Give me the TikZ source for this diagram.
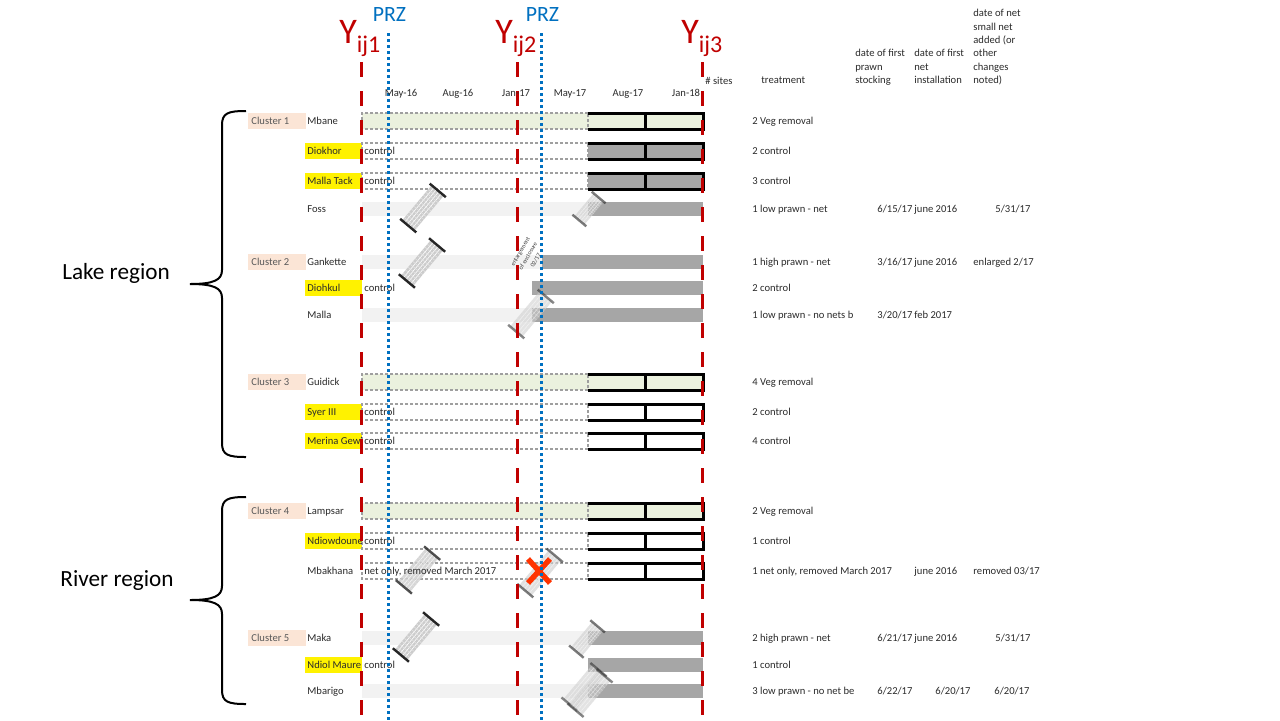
\documentclass[tikz,border=0pt]{standalone}
\usepackage{fontspec}
\setmainfont{Carlito}
\usetikzlibrary{calc}
\definecolor{yred}{HTML}{C00000}
\definecolor{pblue}{HTML}{0070C0}
\definecolor{vgreen}{HTML}{EBF1DE}
\definecolor{lgrey}{HTML}{F2F2F2}
\definecolor{dgrey}{HTML}{A6A6A6}
\definecolor{pinkc}{HTML}{FBE5D6}
\definecolor{xred}{HTML}{FF3300}
\definecolor{txtc}{HTML}{2B2B2B}
\definecolor{cltxt}{HTML}{595959}
\newcommand{\rowbox}[3]{%
  \fill[#2] (362,{#1-8}) rectangle (588,{#1+8});
  \fill[#3] (588,{#1-8}) rectangle (703,{#1+8});
  \draw[dbox] (588,{#1-8}) -- (362,{#1-8}) -- (362,{#1+8}) -- (588,{#1+8}) -- cycle;
  \draw[blk] (588,{#1-8}) -- (703,{#1-8}) -- (703,{#1+8}) -- (588,{#1+8});
  \draw[blk] (645,{#1-8}) -- (645,{#1+8});
}
\newcommand{\rownet}[2]{%
  \fill[lgrey] (362,{#1-7}) rectangle (703,{#1+7});
  \fill[dgrey] (#2,{#1-7}) rectangle (703,{#1+7});
}
\newcommand{\netpic}[5]{% cx cy length width opacity
  \begin{scope}[shift={(#1,#2)}, rotate=50]
    \fill[gray!40, opacity=#5] ({-#3/2},{-#4/2}) rectangle ({#3/2},{#4/2});
    \foreach \k in {-0.3,-0.1,0.1,0.3}
      \draw[white, opacity=#5, line width=0.3pt] ({-#3/2},{\k*#4}) -- ({#3/2},{\k*#4});
    \foreach \t in {0.08,0.16,...,0.95}
      \draw[gray!20, opacity=#5, line width=0.25pt] ({-#3/2+\t*#3},{-#4/2}) -- ({-#3/2+\t*#3},{#4/2});
    \draw[black!85, line width=1.2pt, opacity=#5] ({-#3/2},{-#4/2-2.5}) -- ({-#3/2},{#4/2+2.5});
    \draw[black!85, line width=1.2pt, opacity=#5] ({#3/2},{-#4/2-2.5}) -- ({#3/2},{#4/2+2.5});
  \end{scope}
}
\begin{document}
\begin{tikzpicture}[x=0.5pt,y=-0.5pt,
  sm/.style={font=\fontsize{5.3}{6.5}\selectfont, inner sep=0pt, anchor=base west, text=txtc},
  smc/.style={sm, anchor=base},
  cl/.style={sm, text=cltxt},
  dbox/.style={draw=gray!75, dash pattern=on 1.5pt off 1pt, line width=0.6pt},
  blk/.style={draw=black, line width=1.5pt},
  redline/.style={yred, line width=1.5pt, dash pattern=on 7.5pt off 7pt},
  blueline/.style={pblue, line width=1.5pt, dash pattern=on 1.5pt off 1.5pt},
  region/.style={font=\fontsize{11.6}{13}\selectfont, inner sep=0pt, text=black},
  brace/.style={draw=black, line width=1pt}]
\useasboundingbox (0,0) rectangle (1280,720);
\fill[white] (0,0) rectangle (1280,720);

% ---------- braces and region labels ----------
\node[region] (lake) at (116,273) {Lake region};
\node[region] (river) at (117,580) {River region};
\coordinate (lt) at (246,111);
\coordinate (lb) at (246,457);
\coordinate (rt) at (246,497);
\coordinate (rb) at (246,704);
\draw[brace] (lt) .. controls (228,111) and (222,113) .. (222,125) -- (222,270)
  .. controls (222,280) and (214,284) .. (190,284)
  .. controls (214,284) and (222,288) .. (222,298) -- (222,443)
  .. controls (222,455) and (228,457) .. (lb);
\draw[brace] (rt) .. controls (228,497) and (222,499) .. (222,511) -- (222,586)
  .. controls (222,596) and (214,600) .. (190,600)
  .. controls (214,600) and (222,604) .. (222,614) -- (222,690)
  .. controls (222,702) and (228,704) .. (rb);

% ---------- cluster and highlight boxes ----------
\fill[pinkc] (248,113) rectangle (306,129);
\fill[pinkc] (248,254) rectangle (306,270);
\fill[pinkc] (248,374) rectangle (306,390);
\fill[pinkc] (248,503) rectangle (306,519);
\fill[pinkc] (248,630) rectangle (306,646);
\foreach \yy in {151,181,288,412,441,541,665}
  \fill[yellow] (305,{\yy-8}) rectangle (362,{\yy+8});
\node[cl] (c1) at (251,124.5) {Cluster 1};
\node[cl] (c2) at (251,265.5) {Cluster 2};
\node[cl] (c3) at (251,385.5) {Cluster 3};
\node[cl] (c4) at (251,514.5) {Cluster 4};
\node[cl] (c5) at (251,641.5) {Cluster 5};

% ---------- bars ----------
\rowbox{121}{vgreen}{vgreen}
\rowbox{151}{white}{dgrey}
\rowbox{181}{white}{dgrey}
\rownet{209}{588}
\rownet{262}{542}
\fill[dgrey] (532,281) rectangle (703,295);
\rownet{315}{532}
\rowbox{382}{vgreen}{vgreen}
\rowbox{412}{white}{white}
\rowbox{441}{white}{white}
\rowbox{511}{vgreen}{vgreen}
\rowbox{541}{white}{white}
\rowbox{571}{white}{white}
\rownet{638}{588}
\fill[dgrey] (588,658) rectangle (703,672);
\rownet{691}{588}

% ---------- site names ----------
\node[sm] (s1) at (307,124.5) {Mbane};
\node[sm] (s2) at (307,154.5) {Diokhor};
\node[sm] (s3) at (307,184.5) {Malla Tack};
\node[sm] (s4) at (307,212.5) {Foss};
\node[sm] (s5) at (307,265.5) {Gankette};
\node[sm] (s6) at (307,291.5) {Diohkul};
\node[sm] (s7) at (307,318.5) {Malla};
\node[sm] (s8) at (307,385.5) {Guidick};
\node[sm] (s9) at (307,415.5) {Syer III};
\node[sm] (s10) at (307,444.5) {Merina Gewi};
\node[sm] (s11) at (307,514.5) {Lampsar};
\node[sm] (s12) at (307,544.5) {Ndiowdoune};
\node[sm] (s13) at (307,574.5) {Mbakhana};
\node[sm] (s14) at (307,641.5) {Maka};
\node[sm] (s15) at (307,668.5) {Ndiol Maure};
\node[sm] (s16) at (307,694.5) {Mbarigo};

% ---------- net icons ----------
\netpic{423}{208}{46}{16}{1}
\netpic{422}{263}{47}{16}{1}
\netpic{418}{570}{44}{16}{0.8}
\netpic{416}{637}{47}{16}{1}
\netpic{589}{209}{30}{13}{0.6}
\netpic{531}{314}{46}{16}{0.55}
\netpic{540}{573}{46}{16}{0.6}
\netpic{587}{639}{33}{14}{0.6}
\netpic{584}{687}{45}{16}{0.55}
\netpic{590}{693}{45}{16}{0.55}
% red cross
\coordinate (xc) at (539,571);
\draw[xred, line width=2.7pt] ($(xc)+(-11,-12)$) -- ($(xc)+(11,12)$);
\draw[xred, line width=2.7pt] ($(xc)+(11,-12)$) -- ($(xc)+(-11,12)$);

% ---------- in-bar notes ----------
\node[sm] (k1) at (364,154.5) {control};
\node[sm] (k2) at (364,184.5) {control};
\node[sm] (k3) at (364,291.5) {control};
\node[sm] (k4) at (364,415.5) {control};
\node[sm] (k5) at (364,444.5) {control};
\node[sm] (k6) at (364,544.5) {control};
\node[sm] (k7) at (364,574.5) {net only, removed March 2017};
\node[sm] (k8) at (364,668.5) {control};
\node[font=\fontsize{3.1}{4.4}\selectfont, align=center, rotate=60, inner sep=0pt, text=black!75] (enl) at (528,256) {enlargement\\of enclosure\\02/17};

% ---------- time lines ----------
\coordinate (r1t) at (361,62);  \coordinate (r1b) at (361,720);
\coordinate (r2t) at (517,62);  \coordinate (r2b) at (517,720);
\coordinate (r3t) at (702,62);  \coordinate (r3b) at (702,720);
\draw[redline] (r1t) -- (r1b);
\draw[redline] (r2t) -- (r2b);
\draw[redline] (r3t) -- (r3b);
\coordinate (b1t) at (388,33);  \coordinate (b1b) at (388,720);
\coordinate (b2t) at (541,33);  \coordinate (b2b) at (541,720);
\draw[blueline] (b1t) -- (b1b);
\draw[blueline] (b2t) -- (b2b);

% ---------- labels of the time lines ----------
\node[anchor=base west, inner sep=0pt, text=yred, font=\fontsize{18}{18}\selectfont] (y1) at (339,43) {Y\raisebox{-4.5pt}{\fontsize{12}{12}\selectfont ij1}};
\node[anchor=base west, inner sep=0pt, text=yred, font=\fontsize{18}{18}\selectfont] (y2) at (495,43) {Y\raisebox{-4.5pt}{\fontsize{12}{12}\selectfont ij2}};
\node[anchor=base west, inner sep=0pt, text=yred, font=\fontsize{18}{18}\selectfont] (y3) at (681,43) {Y\raisebox{-4.5pt}{\fontsize{12}{12}\selectfont ij3}};
\node[anchor=base, inner sep=0pt, text=pblue, font=\fontsize{10.9}{11}\selectfont] (p1) at (389.5,21) {PRZ};
\node[anchor=base, inner sep=0pt, text=pblue, font=\fontsize{10.9}{11}\selectfont] (p2) at (542.5,21) {PRZ};

% ---------- axis ----------
\node[smc] (a1) at (401,96) {May-16};
\node[smc] (a2) at (458,96) {Aug-16};
\node[smc] (a3) at (516,96) {Jan-17};
\node[smc] (a4) at (570,96) {May-17};
\node[smc] (a5) at (628,96) {Aug-17};
\node[smc] (a6) at (686,96) {Jan-18};

% ---------- header ----------
\node[sm] (h0) at (705,84) {\# sites};
\node[sm] (h1) at (761,83.5) {treatment};
\node[sm] (h2a) at (855,56.5) {date of first};
\node[sm] (h2b) at (855,70) {prawn};
\node[sm] (h2c) at (855,83.5) {stocking};
\node[sm] (h3a) at (914,56.5) {date of first};
\node[sm] (h3b) at (914,70) {net};
\node[sm] (h3c) at (914,83.5) {installation};
\node[sm] (h4a) at (973,16.5) {date of net};
\node[sm] (h4b) at (973,30) {small net};
\node[sm] (h4c) at (973,43.5) {added (or};
\node[sm] (h4d) at (973,56.5) {other};
\node[sm] (h4e) at (973,70) {changes};
\node[sm] (h4f) at (973,83.5) {noted)};

% ---------- right table ----------
\node[sm] (t1) at (752,124.5) {2 Veg removal};
\node[sm] (t2) at (752,154.5) {2 control};
\node[sm] (t3) at (752,184.5) {3 control};
\node[sm] (t4) at (752,212.5) {1 low prawn - net};
\node[sm] (t4a) at (877,212.5) {6/15/17};
\node[sm] (t4b) at (914,212.5) {june 2016};
\node[sm] (t4c) at (995,212.5) {5/31/17};
\node[sm] (t5) at (752,265.5) {1 high prawn - net};
\node[sm] (t5a) at (877,265.5) {3/16/17};
\node[sm] (t5b) at (914,265.5) {june 2016};
\node[sm] (t5c) at (973,265.5) {enlarged 2/17};
\node[sm] (t6) at (752,291.5) {2 control};
\node[sm] (t7) at (752,318.5) {1 low prawn - no nets b};
\node[sm] (t7a) at (877,318.5) {3/20/17};
\node[sm] (t7b) at (914,318.5) {feb 2017};
\node[sm] (t8) at (752,385.5) {4 Veg removal};
\node[sm] (t9) at (752,415.5) {2 control};
\node[sm] (t10) at (752,444.5) {4 control};
\node[sm] (t11) at (752,514.5) {2 Veg removal};
\node[sm] (t12) at (752,544.5) {1 control};
\node[sm] (t13) at (752,574.5) {1 net only, removed March 2017};
\node[sm] (t13b) at (914,574.5) {june 2016};
\node[sm] (t13c) at (973,574.5) {removed 03/17};
\node[sm] (t14) at (752,641.5) {2 high prawn - net};
\node[sm] (t14a) at (877,641.5) {6/21/17};
\node[sm] (t14b) at (914,641.5) {june 2016};
\node[sm] (t14c) at (995,641.5) {5/31/17};
\node[sm] (t15) at (752,668.5) {1 control};
\node[sm] (t16) at (752,694.5) {3 low prawn - no net be};
\node[sm] (t16a) at (877,694.5) {6/22/17};
\node[sm] (t16b) at (935,694.5) {6/20/17};
\node[sm] (t16c) at (994,694.5) {6/20/17};
\end{tikzpicture}
\end{document}
